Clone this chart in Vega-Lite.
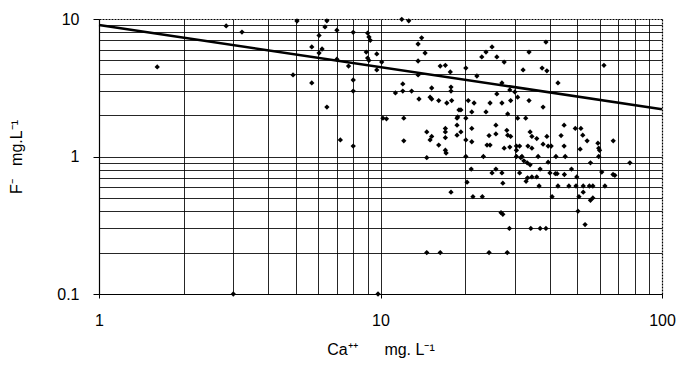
{
  "$schema": "https://vega.github.io/schema/vega-lite/v6.json",
  "width": 563,
  "height": 275,
  "autosize": "none",
  "padding": {"left": 99, "top": 19, "right": 20, "bottom": 71},
  "background": "white",
  "config": {
    "view": {"stroke": null},
    "font": "Liberation Sans",
    "axis": {"labelFont": "Liberation Sans", "titleFont": "Liberation Sans", "labelColor": "black", "titleColor": "black", "titleFontWeight": "normal"}
  },
  "datasets": {
    "line": [{"ca": 1, "f": 9.04}, {"ca": 100, "f": 2.21}],
    "pts": [
      {"ca":1.61,"f":4.48},{"ca":2.83,"f":8.9},{"ca":3.22,"f":8.04},{"ca":5.05,"f":9.67},{"ca":6.45,"f":9.7},
      {"ca":6.35,"f":8.75},{"ca":7.0,"f":8.3},{"ca":8.0,"f":8.0},{"ca":9.0,"f":7.9},{"ca":9.1,"f":7.4},
      {"ca":9.2,"f":7.0},{"ca":6.05,"f":7.6},{"ca":5.7,"f":6.26},{"ca":6.2,"f":6.05},{"ca":6.05,"f":5.66},
      {"ca":8.9,"f":5.75},{"ca":9.7,"f":5.57},{"ca":9.0,"f":5.2},{"ca":9.1,"f":5.0},{"ca":7.0,"f":5.1},
      {"ca":7.7,"f":4.55},{"ca":10.1,"f":4.86},{"ca":9.7,"f":4.26},{"ca":4.89,"f":3.92},{"ca":5.7,"f":3.43},
      {"ca":8.0,"f":3.6},{"ca":8.0,"f":2.99},{"ca":6.45,"f":2.29},{"ca":10.2,"f":1.9},{"ca":10.5,"f":1.88},
      {"ca":7.2,"f":1.32},{"ca":8.0,"f":1.19},{"ca":11.9,"f":9.95},{"ca":12.6,"f":9.7},{"ca":14.0,"f":7.3},
      {"ca":13.6,"f":6.58},{"ca":14.4,"f":5.66},{"ca":13.6,"f":4.95},{"ca":16.3,"f":4.55},{"ca":17.0,"f":4.6},
      {"ca":17.7,"f":4.12},{"ca":13.6,"f":3.92},{"ca":12.0,"f":3.37},{"ca":12.0,"f":2.99},{"ca":12.9,"f":2.99},
      {"ca":11.3,"f":2.9},{"ca":15.2,"f":3.15},{"ca":17.8,"f":3.2},{"ca":17.8,"f":2.99},{"ca":13.7,"f":2.62},
      {"ca":15.0,"f":2.7},{"ca":15.2,"f":2.62},{"ca":16.1,"f":2.55},{"ca":17.2,"f":2.45},{"ca":17.9,"f":2.55},
      {"ca":19.0,"f":2.18},{"ca":18.7,"f":1.9},{"ca":18.7,"f":1.69},{"ca":18.7,"f":1.43},{"ca":12.1,"f":1.9},
      {"ca":12.1,"f":1.3},{"ca":14.6,"f":1.51},{"ca":15.2,"f":1.4},{"ca":15.0,"f":1.32},{"ca":17.0,"f":1.6},
      {"ca":17.0,"f":1.51},{"ca":17.0,"f":1.37},{"ca":16.1,"f":1.21},{"ca":17.0,"f":1.11},{"ca":17.1,"f":1.06},
      {"ca":14.6,"f":0.98},{"ca":17.8,"f":0.55},{"ca":14.6,"f":0.2},{"ca":16.3,"f":0.2},{"ca":3.0,"f":0.1},
      {"ca":9.8,"f":0.1},{"ca":38.7,"f":6.8},{"ca":24.9,"f":6.26},{"ca":23.7,"f":5.75},{"ca":22.9,"f":5.3},
      {"ca":25.9,"f":5.3},{"ca":27.5,"f":4.86},{"ca":33.7,"f":5.75},{"ca":20.1,"f":4.4},{"ca":22.0,"f":3.85},
      {"ca":32.1,"f":4.26},{"ca":37.5,"f":4.4},{"ca":39.0,"f":4.2},{"ca":62.2,"f":4.6},{"ca":27.0,"f":3.43},
      {"ca":42.7,"f":3.43},{"ca":28.8,"f":3.05},{"ca":30.0,"f":2.95},{"ca":30.7,"f":2.7},{"ca":25.9,"f":2.85},
      {"ca":20.5,"f":2.55},{"ca":21.5,"f":2.45},{"ca":24.5,"f":2.45},{"ca":27.0,"f":2.45},{"ca":29.0,"f":2.55},
      {"ca":33.7,"f":2.55},{"ca":37.8,"f":2.29},{"ca":19.3,"f":2.18},{"ca":21.1,"f":2.11},{"ca":23.7,"f":2.11},
      {"ca":18.8,"f":1.94},{"ca":20.1,"f":1.9},{"ca":28.3,"f":2.04},{"ca":30.7,"f":1.9},{"ca":32.8,"f":1.9},
      {"ca":19.3,"f":1.51},{"ca":21.1,"f":1.6},{"ca":25.7,"f":1.69},{"ca":28.1,"f":1.55},{"ca":28.3,"f":1.43},
      {"ca":29.0,"f":1.4},{"ca":25.7,"f":1.46},{"ca":24.3,"f":1.42},{"ca":34.0,"f":1.51},{"ca":34.5,"f":1.4},
      {"ca":35.9,"f":1.35},{"ca":39.0,"f":1.4},{"ca":44.9,"f":1.69},{"ca":49.2,"f":1.6},{"ca":51.5,"f":1.6},
      {"ca":52.3,"f":1.43},{"ca":54.2,"f":1.3},{"ca":43.8,"f":1.42},{"ca":59.2,"f":1.25},{"ca":67.1,"f":1.3},
      {"ca":20.1,"f":1.32},{"ca":21.1,"f":1.28},{"ca":23.9,"f":1.21},{"ca":24.5,"f":1.21},{"ca":27.5,"f":1.15},
      {"ca":28.8,"f":1.17},{"ca":30.4,"f":1.19},{"ca":31.2,"f":1.19},{"ca":33.4,"f":1.19},{"ca":34.5,"f":1.15},
      {"ca":37.8,"f":1.23},{"ca":39.4,"f":1.19},{"ca":40.4,"f":1.19},{"ca":44.9,"f":1.19},{"ca":59.6,"f":1.15},
      {"ca":51.2,"f":1.13},{"ca":20.1,"f":1.0},{"ca":23.2,"f":1.0},{"ca":30.4,"f":1.0},{"ca":31.8,"f":1.0},
      {"ca":36.3,"f":1.0},{"ca":45.3,"f":1.0},{"ca":59.6,"f":1.0},{"ca":60.0,"f":1.11},{"ca":30.4,"f":1.11},
      {"ca":31.5,"f":0.98},{"ca":32.3,"f":0.93},{"ca":33.2,"f":0.9},{"ca":34.0,"f":0.87},{"ca":39.4,"f":0.91},
      {"ca":42.0,"f":1.0},{"ca":55.7,"f":0.9},{"ca":76.9,"f":0.9},{"ca":21.0,"f":0.81},{"ca":25.7,"f":0.81},
      {"ca":27.0,"f":0.76},{"ca":24.9,"f":0.76},{"ca":31.2,"f":0.76},{"ca":33.3,"f":0.7},{"ca":32.9,"f":0.66},
      {"ca":34.5,"f":0.71},{"ca":35.9,"f":0.71},{"ca":36.9,"f":0.81},{"ca":40.0,"f":0.76},{"ca":41.8,"f":0.75},
      {"ca":42.4,"f":0.75},{"ca":45.0,"f":0.74},{"ca":47.7,"f":0.81},{"ca":49.8,"f":0.71},{"ca":61.1,"f":0.77},
      {"ca":67.0,"f":0.74},{"ca":68.0,"f":0.73},{"ca":20.3,"f":0.65},{"ca":27.2,"f":0.64},{"ca":36.6,"f":0.61},
      {"ca":42.7,"f":0.61},{"ca":46.7,"f":0.61},{"ca":49.5,"f":0.61},{"ca":52.5,"f":0.61},{"ca":55.2,"f":0.61},
      {"ca":56.8,"f":0.61},{"ca":52.5,"f":0.55},{"ca":21.3,"f":0.51},{"ca":23.0,"f":0.51},{"ca":40.7,"f":0.51},
      {"ca":50.7,"f":0.51},{"ca":55.7,"f":0.48},{"ca":56.8,"f":0.5},{"ca":26.8,"f":0.39},{"ca":27.2,"f":0.38},
      {"ca":50.3,"f":0.4},{"ca":28.7,"f":0.3},{"ca":34.2,"f":0.3},{"ca":36.9,"f":0.3},{"ca":38.7,"f":0.3},
      {"ca":53.3,"f":0.32},{"ca":24.3,"f":0.2},{"ca":28.2,"f":0.2},{"ca":62.7,"f":0.61}
    ]
  },
  "resolve": {"axis": {"x": "independent", "y": "independent"}},
  "layer": [
    {
      "data": {"name": "line"},
      "mark": {"type": "line", "color": "black", "strokeWidth": 2.5},
      "encoding": {
        "x": {"field": "ca", "type": "quantitative",
              "scale": {"type": "log", "domain": [1, 100], "nice": false},
              "axis": {"orient": "top", "values": [1,2,3,4,5,6,7,8,9,10,20,30,40,50,60,70,80,90],
                       "grid": true, "gridColor": "black", "gridOpacity": 0.85, "gridWidth": 1,
                       "labels": false, "ticks": false, "title": null,
                       "domain": true, "domainColor": "black", "domainDash": [2, 1], "domainWidth": 1.2}},
        "y": {"field": "f", "type": "quantitative",
              "scale": {"type": "log", "domain": [0.1, 10], "nice": false},
              "axis": {"orient": "right", "values": [0.1,0.2,0.3,0.4,0.5,0.6,0.7,0.8,0.9,1,2,3,4,5,6,7,8,9],
                       "grid": true, "gridColor": "black", "gridOpacity": 0.85, "gridWidth": 1,
                       "labels": false, "ticks": false, "title": null,
                       "domain": true, "domainColor": "black", "domainDash": [2, 1], "domainWidth": 1.2}}
      }
    },
    {
      "data": {"name": "pts"},
      "mark": {"type": "point", "shape": "diamond", "filled": true, "color": "black", "opacity": 1, "size": 28},
      "encoding": {
        "x": {"field": "ca", "type": "quantitative",
              "scale": {"type": "log", "domain": [1, 100], "nice": false},
              "axis": {"orient": "bottom", "values": [1, 10, 100], "grid": false,
                       "labelExpr": "datum.value == 1 ? '1' : datum.value == 10 ? '10' : '100'",
                       "labelFontSize": 16, "labelPadding": 14, "tickSize": 4, "tickColor": "black",
                       "domainColor": "black", "domainWidth": 1.2, "labelFlush": false,
                       "title": "Ca⁺⁺\u00a0\u00a0\u00a0\u00a0\u00a0\u00a0mg.\u00a0L⁻¹", "titleFontSize": 16, "titlePadding": 13}},
        "y": {"field": "f", "type": "quantitative",
              "scale": {"type": "log", "domain": [0.1, 10], "nice": false},
              "axis": {"orient": "left", "values": [0.1, 1, 10], "grid": false,
                       "labelExpr": "datum.value < 0.5 ? '0.1' : datum.value < 5 ? '1' : '10'",
                       "labelFontSize": 16, "labelPadding": 14, "tickSize": 6, "tickColor": "black",
                       "domainColor": "black", "domainWidth": 1.2, "labelFlush": false,
                       "title": "F⁻\u00a0\u00a0\u00a0mg.L⁻¹", "titleFontSize": 16, "titlePadding": 32}}
      }
    }
  ]
}
